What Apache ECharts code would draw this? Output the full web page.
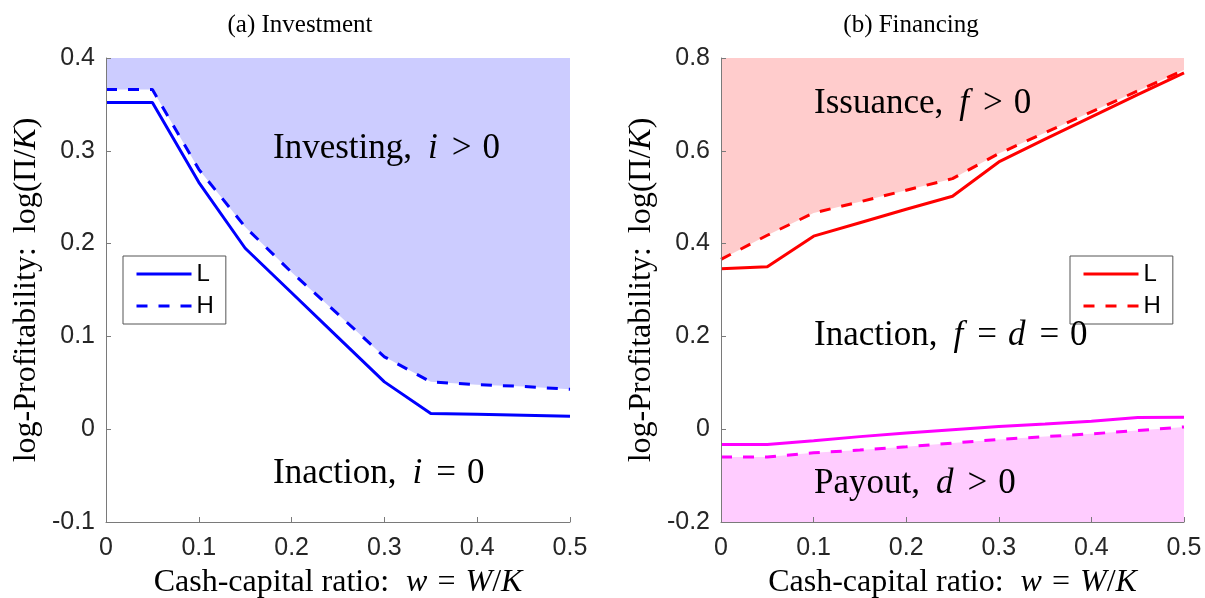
<!DOCTYPE html>
<html>
<head>
<meta charset="utf-8">
<script src="https://cdn.jsdelivr.net/npm/echarts@6/dist/echarts.min.js"></script>
<style>
html,body{margin:0;padding:0;background:#fff;}
#chart{width:1205px;height:598px;}
</style>
</head>
<body>
<div id="chart"></div>
<script>
// ---- data ----
const cashRatio = [0, 0.05, 0.1, 0.15, 0.2, 0.25, 0.3, 0.35, 0.4, 0.45, 0.5];
const investL = [0.352, 0.352, 0.266, 0.195, 0.147, 0.099, 0.051, 0.017, 0.016, 0.015, 0.014];
const investH = [0.366, 0.366, 0.280, 0.218, 0.169, 0.124, 0.078, 0.051, 0.048, 0.046, 0.043];
const issueL = [0.346, 0.350, 0.416, 0.445, 0.474, 0.502, 0.576, 0.625, 0.673, 0.721, 0.768];
const issueH = [0.366, 0.418, 0.466, 0.490, 0.515, 0.540, 0.594, 0.639, 0.684, 0.729, 0.774];
const payoutL = [-0.033, -0.033, -0.025, -0.016, -0.008, -0.001, 0.006, 0.011, 0.017, 0.025, 0.026];
const payoutH = [-0.060, -0.060, -0.051, -0.045, -0.038, -0.030, -0.022, -0.016, -0.010, -0.003, 0.005];
const xTicks = ['0', '0.1', '0.2', '0.3', '0.4', '0.5'];
const panelTitles = ['(a) Investment', '(b) Financing'];
const legendNames = ['L', 'H'];

// ---- styling helpers ----
const SERIF = 'Liberation Serif';
const SANS = 'Liberation Sans';
const AXIS_COLOR = '#7a7a7a';
const LABEL_COLOR = '#262626';
const pairs = (ys) => cashRatio.map((x, i) => [x, ys[i]]);
const fmt1 = (v) => { const r = Math.round(v * 10) / 10; return r === 0 ? '0' : r.toFixed(1); };

function richText(size, padAfterComma, relPad) {
  const base = { fontFamily: SERIF, fontSize: size, fill: '#000', color: '#000' };
  return {
    a: Object.assign({}, base),
    i: Object.assign({}, base, { fontStyle: 'italic' }),
    j: Object.assign({}, base, { fontStyle: 'italic', padding: [0, 0, 0, padAfterComma] }),
    o: Object.assign({}, base, { padding: [0, relPad[1], 0, relPad[0]] }),
    p: Object.assign({}, base, { padding: [0, 0, 0, padAfterComma] })
  };
}

function xAxisDef(gridIndex) {
  return {
    type: 'value', gridIndex, min: 0, max: 0.5, interval: 0.1,
    axisLine: { show: true, onZero: false, lineStyle: { color: AXIS_COLOR, width: 1 } },
    axisTick: { show: true, inside: true, length: 5, lineStyle: { color: AXIS_COLOR } },
    splitLine: { show: false },
    axisLabel: { color: LABEL_COLOR, fontFamily: SANS, fontSize: 25, margin: 14,
      formatter: (v) => xTicks[Math.round(v * 10)] },
    name: '{a|Cash-capital ratio:}{j|w}{o|=}{i|W}{a|/}{i|K}',
    nameLocation: 'middle', nameGap: 45,
    nameTextStyle: { rich: richText(32, 17, [10, 10]) },
    z: 5
  };
}
function yAxisDef(gridIndex, min, max, interval) {
  return {
    type: 'value', gridIndex, min, max, interval,
    axisLine: { show: true, onZero: false, lineStyle: { color: AXIS_COLOR, width: 1 } },
    axisTick: { show: true, inside: true, length: 5, lineStyle: { color: AXIS_COLOR } },
    splitLine: { show: false },
    axisLabel: { color: LABEL_COLOR, fontFamily: SANS, fontSize: 25, margin: 11, formatter: fmt1 },
    name: '{a|log-Profitability:}{p|log(Π/}{i|K}{a|)}',
    nameLocation: 'middle', nameRotate: 90, nameGap: 63,
    nameTextStyle: { rich: richText(32, 14, [0, 0]) },
    z: 5
  };
}
function fillSeries(idx, ys, color, origin) {
  return {
    type: 'line', xAxisIndex: idx, yAxisIndex: idx, data: pairs(ys),
    symbol: 'none', silent: true, z: 1,
    lineStyle: { width: 0, opacity: 0 },
    areaStyle: { color, opacity: 1, origin }
  };
}
function lineSeries(idx, name, ys, color, dashed) {
  return {
    type: 'line', name, xAxisIndex: idx, yAxisIndex: idx, data: pairs(ys),
    symbol: 'none', silent: true, z: 3,
    lineStyle: { color, width: 3, type: dashed ? [11, 11] : 'solid' },
    itemStyle: { color }
  };
}
function legendDef(names, left) {
  return {
    data: names, left, top: 256, orient: 'vertical',
    itemWidth: 55, itemHeight: 14, itemGap: 8, padding: [6, 12, 6, 12],
    borderColor: '#555', borderWidth: 1, backgroundColor: '#fff',
    selectedMode: false,
    formatter: (n) => n.charAt(0),
    itemStyle: { opacity: 0 },
    lineStyle: { width: 3 },
    textStyle: { fontFamily: SANS, fontSize: 24, color: '#000' }
  };
}
function annot(x, y, text) {
  return { type: 'text', x, y, z: 10, silent: true,
    style: { text, rich: richText(35, 16, [14, 11]), verticalAlign: 'middle', align: 'left' } };
}

const chart = echarts.init(document.getElementById('chart'), null, { renderer: 'canvas' });
chart.setOption({
  animation: false,
  backgroundColor: '#fff',
  grid: [
    { left: 106, right: 635, top: 58, bottom: 76, outerBoundsMode: 'none', containLabel: false },
    { left: 721, right: 21, top: 58, bottom: 76, outerBoundsMode: 'none', containLabel: false }
  ],
  xAxis: [xAxisDef(0), xAxisDef(1)],
  yAxis: [yAxisDef(0, -0.1, 0.4, 0.1), yAxisDef(1, -0.2, 0.8, 0.2)],
  legend: [legendDef(legendNames, 123), legendDef(legendNames.map(n => n + '2'), 1070)],
  series: [
    fillSeries(0, investH, '#ccccff', 'end'),
    lineSeries(0, 'L', investL, '#0000ff', false),
    lineSeries(0, 'H', investH, '#0000ff', true),
    fillSeries(1, issueH, '#ffcccc', 'end'),
    fillSeries(1, payoutH, '#ffccff', 'start'),
    lineSeries(1, 'L2', issueL, '#ff0000', false),
    lineSeries(1, 'H2', issueH, '#ff0000', true),
    lineSeries(1, 'Lp', payoutL, '#ff00ff', false),
    lineSeries(1, 'Hp', payoutH, '#ff00ff', true)
  ],
  graphic: [
    { type: 'text', x: 300, y: 25, silent: true,
      style: { text: panelTitles[0], fontFamily: SERIF, fontSize: 25, fill: '#000', align: 'center', verticalAlign: 'middle' } },
    { type: 'text', x: 911, y: 25, silent: true,
      style: { text: panelTitles[1], fontFamily: SERIF, fontSize: 25, fill: '#000', align: 'center', verticalAlign: 'middle' } },
    annot(273, 149, '{a|Investing,}{j|i}{o|>}{a|0}'),
    annot(273, 474, '{a|Inaction,}{j|i}{o|=}{a|0}'),
    annot(814, 104, '{a|Issuance,}{j|f}{o|>}{a|0}'),
    annot(814, 336, '{a|Inaction,}{j|f}{o|=}{i|d}{o|=}{a|0}'),
    annot(814, 484, '{a|Payout,}{j|d}{o|>}{a|0}')
  ]
});
</script>
</body>
</html>
